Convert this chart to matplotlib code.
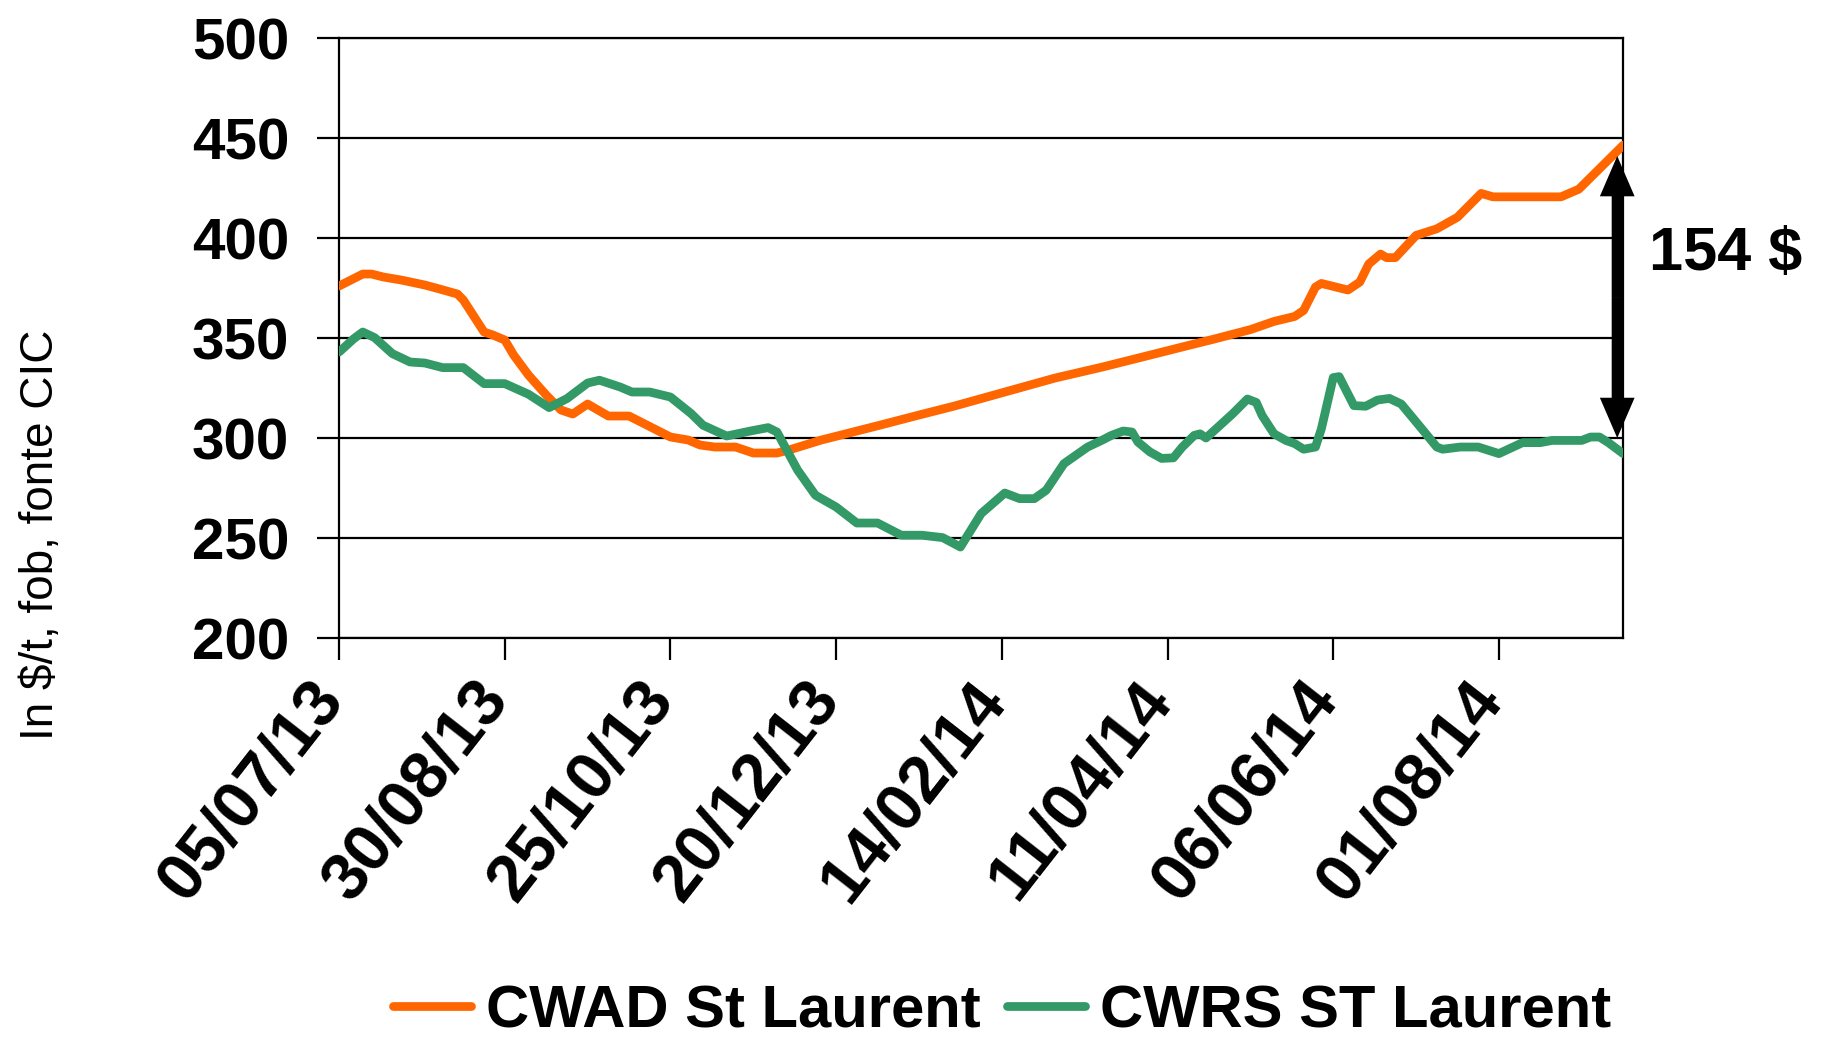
import matplotlib
matplotlib.use("Agg")
import matplotlib.pyplot as plt
import matplotlib.transforms as mtransforms
import pandas as pd

# Prices in $/t, fob St Laurent
start = "2013-07-05"
end = "2014-09-12"

# days after 05/07/13 and price, CWAD
cwad_days = [0, 4, 8, 11, 15, 21, 29, 34, 40, 42, 49, 52, 56, 59, 64, 70, 75, 79, 81, 84,
             91, 98, 112, 118, 122, 127, 134, 140, 148, 152, 163, 183, 196, 208, 225, 242,
             258, 275, 286, 295, 308, 316, 323, 326, 330, 332, 341, 345, 348, 352, 354, 357,
             364, 371, 378, 386, 390, 413, 419, 434]
cwad = [376, 379, 382, 382, 380.5, 379, 376.5, 374.5, 372, 369, 353, 351.5, 349, 341.5, 331.5,
        321.5, 314, 312, 314, 317, 311, 311, 300.5, 299, 296.5, 295.5, 295.5, 292.5, 292.5,
        294, 299, 306.5, 311.5, 316, 323, 330, 335.5, 341.8, 345.9, 349.2, 354.2, 358.3,
        360.8, 363.8, 375.5, 377.3, 374, 378, 387, 392, 390.2, 390.2, 401.3, 404.6, 410.4,
        422.3, 420.6, 420.6, 424.4, 446.4]

# days after 05/07/13 and price, CWRS
cwrs_days = [0, 5, 8, 12, 18, 24, 29, 35, 42, 49, 56, 64, 71, 77, 84, 88, 95, 99, 105, 112,
             119, 123, 131, 139, 145, 148, 155, 161, 168, 175, 182, 190, 197, 204, 210, 217,
             225, 230, 235, 239, 245, 253, 258, 261, 265, 268, 270, 274, 278, 282, 285, 289,
             291, 293, 302, 307, 310, 312, 316, 320, 323, 326, 330, 332, 336, 338, 343, 347,
             351, 355, 359, 365, 371, 373, 379, 385, 392, 400, 406, 410, 420, 423, 426, 429,
             434]
cwrs = [343, 349.7, 353, 350.2, 342.2, 338, 337.5, 335.2, 335.2, 327.2, 327.2, 321.9, 315.2,
        319.7, 327.5, 328.9, 325.5, 323, 323, 320.5, 312.2, 306.4, 301, 303.5, 305.2, 303,
        283.9, 271.4, 265.5, 257.5, 257.5, 251.4, 251.4, 250.2, 245.5, 262.2, 272.5, 269.7,
        269.7, 273.9, 287.2, 295.5, 299, 301.3, 303.5, 303, 298, 293.1, 289.8, 290.1, 295.5,
        301.3, 302.1, 300, 312.1, 319.5, 317.8, 311.2, 302.1, 298.8, 297.2, 294.4, 295.5,
        304.6, 330.2, 330.7, 316.2, 315.9, 319, 319.8, 317, 306.3, 295.5, 294.4, 295.5,
        295.5, 292.2, 297.7, 297.7, 298.8, 298.8, 300.5, 300.5, 297.7, 292.2]

tick_labels = ["05/07/13", "30/08/13", "25/10/13", "20/12/13",
               "14/02/14", "11/04/14", "06/06/14", "01/08/14"]

gap_label = "154 $"
gap_day = 432
gap_low, gap_high = 300, 441

t0 = pd.Timestamp(start)
cwad_dates = t0 + pd.to_timedelta(cwad_days, unit="D")
cwrs_dates = t0 + pd.to_timedelta(cwrs_days, unit="D")
tick_dates = pd.to_datetime(tick_labels, format="%d/%m/%y")

plt.rcParams["font.family"] = ["Liberation Sans", "DejaVu Sans"]

fig = plt.figure(figsize=(18.25, 10.42), dpi=100)
ax = fig.add_axes([0.1858, 0.3877, 0.7036, 0.5758])

ax.plot(cwad_dates, cwad, color="#FF6600", lw=6.3, label="CWAD St Laurent",
        solid_capstyle="round", solid_joinstyle="round", zorder=3)
ax.plot(cwrs_dates, cwrs, color="#339966", lw=6.3, label="CWRS ST Laurent",
        solid_capstyle="round", solid_joinstyle="round", zorder=3)

ax.set_xlim(t0, pd.Timestamp(end))
ax.set_ylim(200, 500)
ax.set_yticks(range(200, 501, 50))
ax.set_xticks(tick_dates)

ax.grid(axis="y", color="black", lw=1.6)
ax.tick_params(axis="y", length=16, width=1.6, pad=20, color="black")
ax.tick_params(axis="x", length=16, width=1.6, pad=3, color="black")
for s in ax.spines.values():
    s.set_linewidth(1.6)
    s.set_color("black")

ax.set_xticklabels(tick_labels, rotation=52, ha="right", va="top",
                   rotation_mode="anchor", fontsize=48, fontweight="bold")
# excel puts the end of the rotated label a bit left of the tick
shift = mtransforms.ScaledTranslation(-0.32, -0.06, fig.dpi_scale_trans)
for lab in ax.get_xticklabels():
    lab.set_transform(lab.get_transform() + shift)
for lab in ax.get_yticklabels():
    lab.set_fontsize(42)
    lab.set_fontweight("bold")

# double arrow showing the spread
mid = (gap_low + gap_high) / 2
gx = t0 + pd.Timedelta(days=gap_day)
for tip in (gap_high, gap_low):
    ax.annotate("", xy=(gx, tip), xytext=(gx, mid),
                arrowprops=dict(arrowstyle="simple,head_length=1.45,head_width=1.25,tail_width=0.4",
                                mutation_scale=20, color="black", lw=0,
                                shrinkA=0, shrinkB=0), zorder=4)
fig.text(0.9458, 0.7562, gap_label, ha="center", va="center",
         fontsize=44, fontweight="bold")

fig.text(0.0225, 0.4866, "In $/t, fob, fonte CIC", rotation=90, ha="center", va="center",
         fontsize=33, family=["Liberation Sans Narrow", "Liberation Sans", "DejaVu Sans"])

fig.legend(loc="center", bbox_to_anchor=(0.549, 0.029), ncol=2, frameon=False,
           prop=dict(size=43, weight="bold"), handlelength=1.3, handletextpad=0.25,
           columnspacing=0.45, borderpad=0, borderaxespad=0)

fig.savefig("out.png", dpi=100)
